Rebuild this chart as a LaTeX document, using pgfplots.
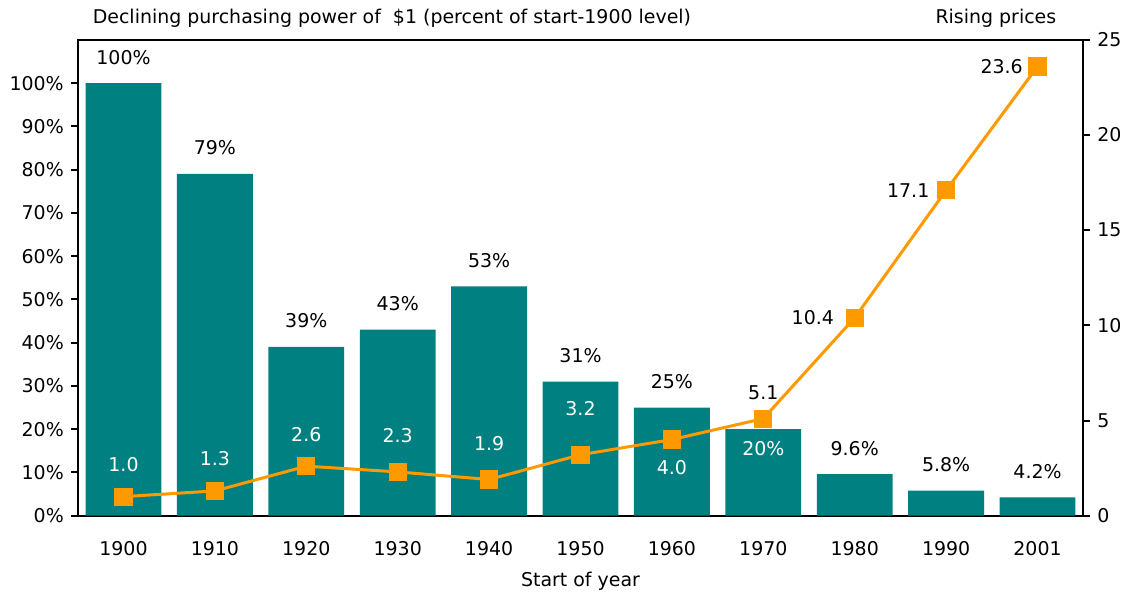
\documentclass[border=0pt]{standalone}
\usepackage{pgfplots}
\pgfplotsset{compat=1.18}
\usepackage{pgfplotstable}
\usepackage{fontspec}
\setmainfont{DejaVu Sans}

\definecolor{tealbar}{RGB}{0,128,128}
\definecolor{orangeline}{RGB}{255,153,0}
\newcommand{\chartfont}{\fontsize{9.5}{11.5}\selectfont}

% bars: purchasing power (%), dy = label offset from bar top, w = 100 for white text
\pgfplotstableread{
x  y    dy    w
0  100  13    0
1  79   13    0
2  39   13    0
3  43   13    0
4  53   13    0
5  31   13    0
6  25   13    0
7  20   -9.5  100
8  9.6  13    0
9  5.8  13    0
10 4.2  13    0
}\powertab

% line: price level, dx/dy = label offset from the point
\pgfplotstableread{
x  y     dx   dy    w
0  1.0   0    16    100
1  1.3   0    16    100
2  2.6   0    16    100
3  2.3   0    18    100
4  1.9   0    18    100
5  3.2   0    23    100
6  4.0   0    -14   100
7  5.1   0    13    0
8  10.4  -21  0     0
9  17.1  -19  0     0
10 23.6  -18  0     0
}\pricetab

\begin{document}
\begin{tikzpicture}
\pgfplotsset{
  every axis/.append style={
    scale only axis, width=504pt, height=238.5pt,
    xmin=-0.5, xmax=10.5,
    axis line style={line width=1pt},
    tick style={line width=1pt, black},
    major tick length=3.5pt,
    tick align=outside,
    tick label style={font=\chartfont},
    label style={font=\chartfont},
    /pgf/number format/assume math mode=true,
  }
}
\begin{axis}[
  name=ax,
  ymin=0, ymax=110,
  ytick={0,10,...,100},
  yticklabel={\pgfmathprintnumber{\tick}\%},
  ytick pos=left,
  xtick={0,...,10},
  xticklabels={1900,1910,1920,1930,1940,1950,1960,1970,1980,1990,2001},
  x tick style={draw=none},
  xticklabel style={yshift=-6pt},
  xlabel={Start of year},
  xlabel style={yshift=-1pt},
]
\addplot[ybar, bar width=0.83, fill=tealbar, draw=none,
  point meta=y,
  visualization depends on={\thisrow{dy} \as \dy},
  visualization depends on={\thisrow{w} \as \wv},
  nodes near coords={\pgfmathprintnumber{\pgfplotspointmeta}\%},
  nodes near coords style={anchor=center, yshift=\dy pt, text={white!\wv!black},
    font=\chartfont, /pgf/number format/assume math mode=true},
] table[x=x, y=y] {\powertab};
\end{axis}

\begin{axis}[
  ymin=0, ymax=25,
  ytick={0,5,...,25},
  axis y line*=right,
  axis x line=none,
]
\addplot[color=orangeline, line width=1.5pt, mark=square*, mark size=3.8pt,
  mark options={solid},
  point meta=y,
  visualization depends on={\thisrow{dx} \as \dx},
  visualization depends on={\thisrow{dy} \as \dy},
  visualization depends on={\thisrow{w} \as \wv},
  nodes near coords={\pgfmathprintnumber[fixed, fixed zerofill, precision=1]{\pgfplotspointmeta}},
  nodes near coords style={anchor=center, xshift=\dx pt, yshift=\dy pt, text={white!\wv!black},
    font=\chartfont, /pgf/number format/assume math mode=true},
] table[x=x, y=y] {\pricetab};
\end{axis}

\node[anchor=west, font=\chartfont]
  at ([shift={(4pt,11pt)}]ax.north west)
  {Declining purchasing power of \ \$1 (percent of start-1900 level)};
\node[anchor=east, font=\chartfont]
  at ([shift={(-10pt,11pt)}]ax.north east) {Rising prices};
\path ([shift={(-39pt,-37pt)}]ax.south west) rectangle ([shift={(21pt,20pt)}]ax.north east);
\end{tikzpicture}
\end{document}
